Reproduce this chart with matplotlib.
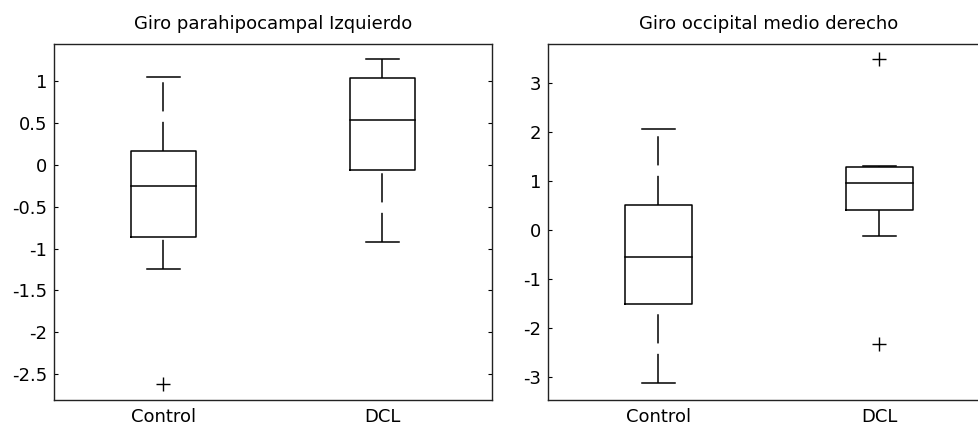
import matplotlib
matplotlib.use("Agg")
import matplotlib.pyplot as plt

# resumen de cada caja: bigote inferior, Q1, mediana, Q3, bigote superior
groups = ["Control", "DCL"]

para_titulo = "Giro parahipocampal Izquierdo"
para_whislo = [-1.25, -0.92]
para_q1 = [-0.86, -0.06]
para_med = [-0.255, 0.53]
para_q3 = [0.16, 1.04]
para_whishi = [1.045, 1.26]
para_fliers = [[-2.62], []]

occ_titulo = "Giro occipital medio derecho"
occ_whislo = [-3.13, -0.135]
occ_q1 = [-1.51, 0.40]
occ_med = [-0.565, 0.945]
occ_q3 = [0.50, 1.27]
occ_whishi = [2.055, 1.305]
occ_fliers = [[], [3.48, -2.33]]

plt.rcParams["font.family"] = ["DejaVu Sans"]
plt.rcParams["font.size"] = 13

W, H = 979, 430
LW = 1.1
DASH = (0, (21 / LW, 7.5 / LW))
BOX_W = 0.30
CAP_W = 0.15


def caja(ax, titulo, whislo, q1, med, q3, whishi, fliers, ylim, yticks):
    for i, name in enumerate(groups):
        x = i + 1
        # bigotes discontinuos, siempre de abajo hacia arriba
        ax.plot([x, x], [whislo[i], q1[i]], color="black", lw=LW, linestyle=DASH)
        ax.plot([x, x], [q3[i], whishi[i]], color="black", lw=LW, linestyle=DASH)
        for y in (whislo[i], whishi[i]):
            ax.plot([x - CAP_W / 2, x + CAP_W / 2], [y, y], color="black", lw=LW)
        xs = [x - BOX_W / 2, x + BOX_W / 2, x + BOX_W / 2, x - BOX_W / 2, x - BOX_W / 2]
        ys = [q1[i], q1[i], q3[i], q3[i], q1[i]]
        ax.plot(xs, ys, color="black", lw=LW)
        ax.plot([x - BOX_W / 2, x + BOX_W / 2], [med[i], med[i]], color="black", lw=LW)
        if fliers[i]:
            ax.plot([x] * len(fliers[i]), fliers[i], "+", color="black",
                    markersize=9.5, mew=1.0)

    ax.set_xlim(0.5, 2.5)
    ax.set_ylim(*ylim)
    ax.set_xticks([1, 2])
    ax.set_xticklabels(groups)
    ax.set_yticks(yticks)
    ax.set_yticklabels([f"{t:g}" for t in yticks])
    ax.tick_params(axis="y", direction="in", length=3, width=0.8, left=True, right=True, pad=5)
    ax.tick_params(axis="x", length=0, pad=6)
    for s in ax.spines.values():
        s.set_linewidth(1.0)
        s.set_color("#222222")
    ax.set_title(titulo, fontsize=13, pad=11)


fig = plt.figure(figsize=(W / 100, H / 100), dpi=100)
ax1 = fig.add_axes([54 / W, 30 / H, 438 / W, 356 / H])
ax2 = fig.add_axes([548 / W, 30 / H, 442 / W, 356 / H])

caja(ax1, para_titulo, para_whislo, para_q1, para_med, para_q3, para_whishi,
     para_fliers, (-2.807, 1.44), [-2.5, -2, -1.5, -1, -0.5, 0, 0.5, 1])
caja(ax2, occ_titulo, occ_whislo, occ_q1, occ_med, occ_q3, occ_whishi,
     occ_fliers, (-3.475, 3.79), [-3, -2, -1, 0, 1, 2, 3])

fig.savefig("out.png", dpi=100)
